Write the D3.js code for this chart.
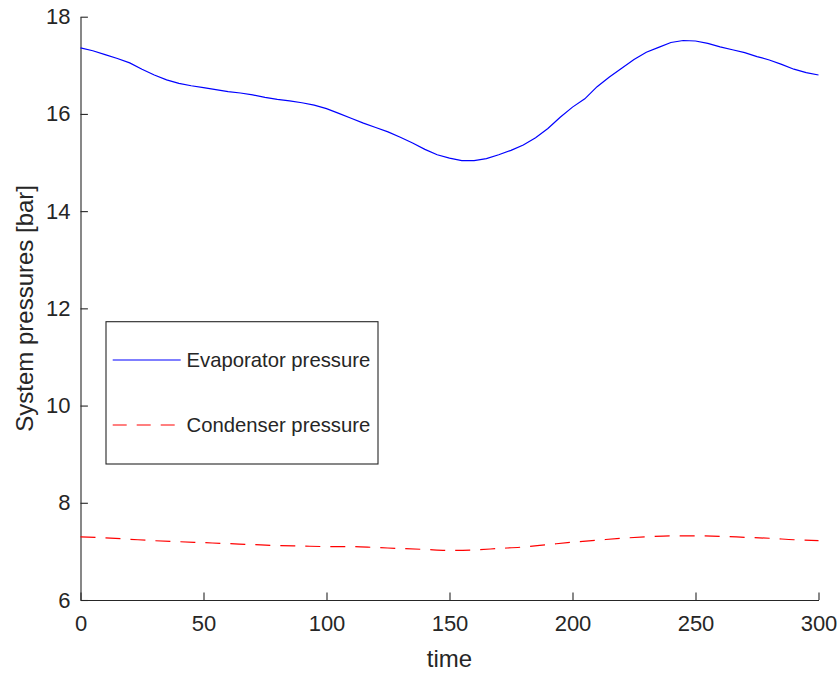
<!DOCTYPE html>
<html>
<head>
<meta charset="utf-8">
<script src="https://cdn.jsdelivr.net/npm/d3@7"></script>
<style>
  html, body { margin: 0; padding: 0; background: #fff; }
  svg { display: block; }
  text { font-family: "Liberation Sans", Arial, Helvetica, sans-serif; fill: #262626; }
</style>
</head>
<body>
<svg id="chart" width="840" height="673"></svg>
<script>
// Sample times (s)
const evapTime = [0,5,10,15,20,25,30,35,40,45,50,55,60,65,70,75,80,85,90,95,100,105,110,115,120,125,130,135,140,145,150,155,160,165,170,175,180,185,190,195,200,205,210,215,220,225,230,235,240,245,250,255,260,265,270,275,280,285,290,295,300];
// Evaporator pressure [bar]
const evapPressure = [17.36,17.30,17.22,17.14,17.05,16.92,16.80,16.70,16.63,16.58,16.54,16.50,16.46,16.43,16.39,16.34,16.30,16.27,16.23,16.18,16.11,16.01,15.91,15.81,15.72,15.63,15.52,15.40,15.27,15.16,15.09,15.04,15.04,15.08,15.16,15.25,15.36,15.51,15.70,15.93,16.14,16.31,16.56,16.76,16.94,17.12,17.27,17.37,17.47,17.51,17.50,17.45,17.38,17.32,17.26,17.18,17.11,17.02,16.92,16.85,16.80];

const condTime = [0,10,20,30,40,50,60,70,80,90,100,110,120,130,140,150,160,170,180,190,200,210,220,230,240,250,260,270,280,290,300];
// Condenser pressure [bar]
const condPressure = [7.30,7.28,7.25,7.22,7.20,7.18,7.16,7.14,7.12,7.11,7.10,7.10,7.08,7.06,7.04,7.02,7.03,7.06,7.09,7.14,7.19,7.23,7.27,7.30,7.32,7.32,7.31,7.29,7.27,7.24,7.22];

const xTicks = [0,50,100,150,200,250,300];
const yTicks = [6,8,10,12,14,16,18];
const seriesNames = ["Evaporator pressure", "Condenser pressure"];

const svg = d3.select("#chart");
const plotLeft = 80.5, plotTop = 16.7, plotRight = 818.5, plotBottom = 600;
const axisColor = "#262626";
const tickLen = 7.4;

const x = d3.scaleLinear().domain([0, 300]).range([plotLeft, plotRight]);
const y = d3.scaleLinear().domain([6, 18]).range([plotBottom, plotTop]);

// Axes (ticks point inward)
const xAxis = d3.axisBottom(x).tickValues(xTicks).tickSize(-tickLen).tickPadding(15).tickSizeOuter(0);
const yAxis = d3.axisLeft(y).tickValues(yTicks).tickSize(-tickLen).tickPadding(10).tickSizeOuter(0);

const gx = svg.append("g").attr("transform", `translate(0,${plotBottom})`).call(xAxis);
const gy = svg.append("g").attr("transform", `translate(${plotLeft},0)`).call(yAxis);
[gx, gy].forEach(g => {
  g.select(".domain").attr("stroke", axisColor).attr("stroke-width", 1.1);
  g.selectAll(".tick line").attr("stroke", axisColor).attr("stroke-width", 1.1);
  g.selectAll(".tick text").attr("fill", axisColor)
    .style("font-family", '"Liberation Sans", Arial, sans-serif').style("font-size", "22px");
});
gx.selectAll(".tick text").attr("dy", "0.71em");

// Axis labels
svg.append("text").attr("x", (plotLeft + plotRight) / 2).attr("y", 667)
  .attr("text-anchor", "middle").style("font-size", "24px").text("time");
svg.append("text")
  .attr("transform", `translate(33,${(plotTop + plotBottom) / 2}) rotate(-90)`)
  .attr("text-anchor", "middle").style("font-size", "24px").text("System pressures [bar]");

// Series
const evapLine = d3.line().x((d, i) => x(evapTime[i])).y(d => y(d));
const condLine = d3.line().x((d, i) => x(condTime[i])).y(d => y(d)).curve(d3.curveMonotoneX);

svg.append("path").datum(evapPressure).attr("d", evapLine)
  .attr("fill", "none").attr("stroke", "#0000ff").attr("stroke-width", 1.2);
svg.append("path").datum(condPressure).attr("d", condLine)
  .attr("fill", "none").attr("stroke", "#ff0000").attr("stroke-width", 1.2)
  .attr("stroke-dasharray", "15,10");

// Legend
const lg = svg.append("g");
lg.append("rect").attr("x", 106).attr("y", 321.7).attr("width", 272).attr("height", 142.3)
  .attr("fill", "#fff").attr("stroke", axisColor).attr("stroke-width", 1.1);
const legendItems = [
  { name: seriesNames[0], color: "#0000ff", dash: null, cy: 360 },
  { name: seriesNames[1], color: "#ff0000", dash: "14,10", cy: 425 }
];
legendItems.forEach(it => {
  lg.append("line").attr("x1", 112.7).attr("x2", 180.7).attr("y1", it.cy).attr("y2", it.cy)
    .attr("stroke", it.color).attr("stroke-width", 1.2).attr("stroke-dasharray", it.dash);
  lg.append("text").attr("x", 186.5).attr("y", it.cy).attr("dy", "0.36em")
    .style("font-size", "20.3px").attr("fill", "#000").text(it.name);
});
</script>
</body>
</html>
